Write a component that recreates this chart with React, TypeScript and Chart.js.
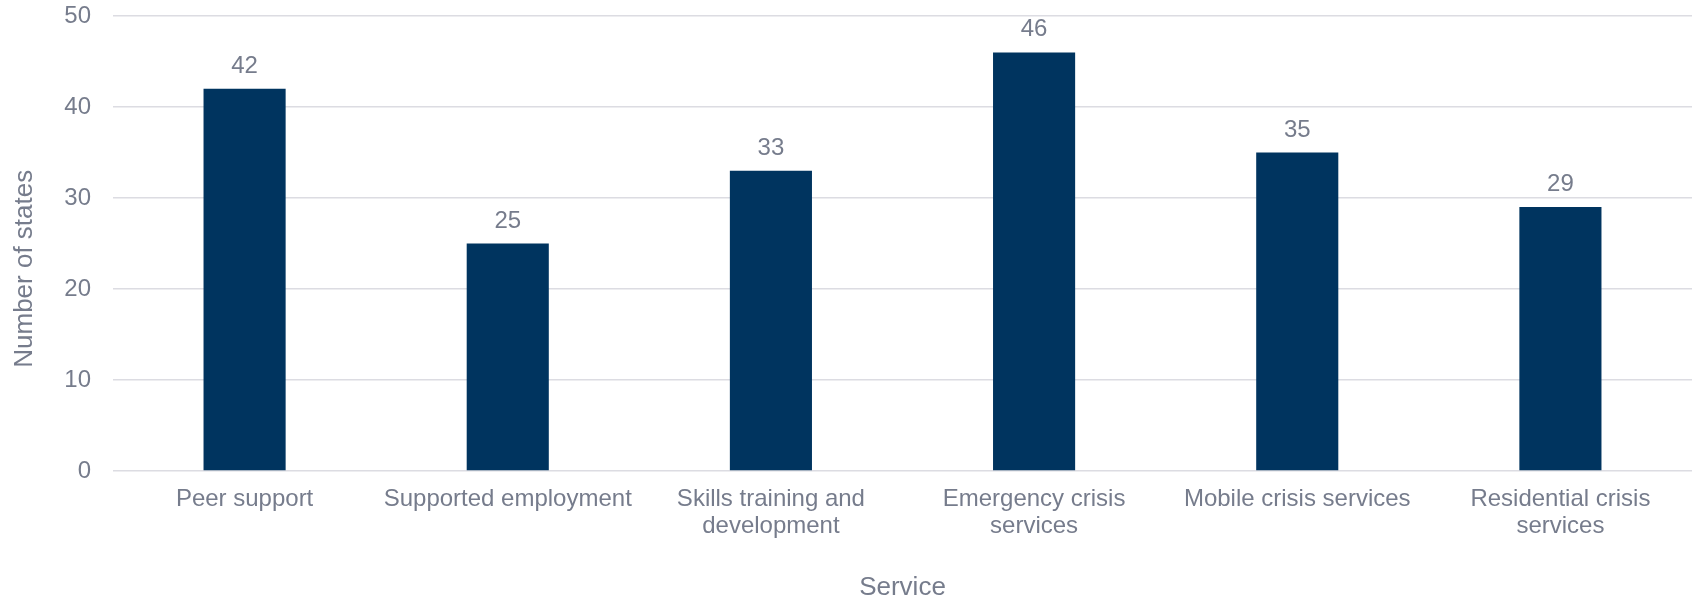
import React, { useEffect, useRef } from "react";
import { Chart, registerables } from "chart.js";

Chart.register(...registerables);

const categories: (string | string[])[] = [
  "Peer support",
  "Supported employment",
  ["Skills training and", "development"],
  ["Emergency crisis", "services"],
  "Mobile crisis services",
  ["Residential crisis", "services"],
];
const stateCounts: number[] = [42, 25, 33, 46, 35, 29];
const yTicks = { min: 0, max: 50, step: 10 };
const yTitle = "Number of states";
const xTitle = "Service";

const TEXT = "#767C8C";
const BAR = "#00345F";
const GRID = "#DCDCE2";
const FAMILY = '"Liberation Sans", Arial, Helvetica, sans-serif';
const FS = 24;
const TFS = 26;

const valueLabels = {
  id: "valueLabels",
  afterDatasetsDraw(chart: any) {
    const ctx = chart.ctx;
    const meta = chart.getDatasetMeta(0);
    ctx.save();
    ctx.font = `${FS}px ${FAMILY}`;
    ctx.fillStyle = TEXT;
    ctx.textAlign = "center";
    ctx.textBaseline = "alphabetic";
    meta.data.forEach((bar: any, i: number) => {
      const v = chart.data.datasets[0].data[i];
      ctx.fillText(String(v), bar.x, bar.y - 16);
    });
    ctx.restore();
  },
};

export default function App() {
  const ref = useRef<HTMLCanvasElement | null>(null);
  useEffect(() => {
    document.body.style.margin = "0";
    if (!ref.current) return;
    const chart = new Chart(ref.current, {
      type: "bar",
      data: {
        labels: categories as any,
        datasets: [
          {
            data: stateCounts,
            backgroundColor: BAR,
            borderWidth: 0,
            categoryPercentage: 1,
            barPercentage: 0.312,
          },
        ],
      },
      plugins: [valueLabels],
      options: {
        animation: false,
        responsive: true,
        maintainAspectRatio: false,
        layout: { padding: { top: 0, right: 4, left: 0, bottom: 0 } },
        plugins: {
          legend: { display: false },
          tooltip: { enabled: false },
        },
        scales: {
          x: {
            grid: { display: false, drawTicks: false },
            border: { display: false },
            ticks: {
              color: TEXT,
              font: { family: FAMILY, size: FS, lineHeight: 1.13 },
              padding: 15,
              maxRotation: 0,
              autoSkip: false,
            },
            title: {
              display: true,
              text: xTitle,
              color: TEXT,
              font: { family: FAMILY, size: TFS, lineHeight: 1.0 },
              padding: { top: 0, bottom: 0 },
            },
            afterFit(scale: any) {
              scale.height = 130;
            },
          },
          y: {
            min: yTicks.min,
            max: yTicks.max,
            grid: { color: GRID, lineWidth: 1.5, drawTicks: false },
            border: { display: false },
            ticks: {
              stepSize: yTicks.step,
              color: TEXT,
              font: { family: FAMILY, size: FS },
              padding: 22,
            },
            title: {
              display: true,
              text: yTitle + "       ",
              color: TEXT,
              font: { family: FAMILY, size: TFS, lineHeight: 1.17 },
              padding: { top: 10, bottom: 0 },
            },
            afterFit(scale: any) {
              scale.width = 113;
              scale.paddingTop = 16;
              scale.paddingBottom = 0;
            },
          },
        },
      },
    });
    return () => chart.destroy();
  }, []);
  return (
    <div style={{ width: 1696, height: 601, position: "relative" }}>
      <canvas ref={ref} />
    </div>
  );
}
